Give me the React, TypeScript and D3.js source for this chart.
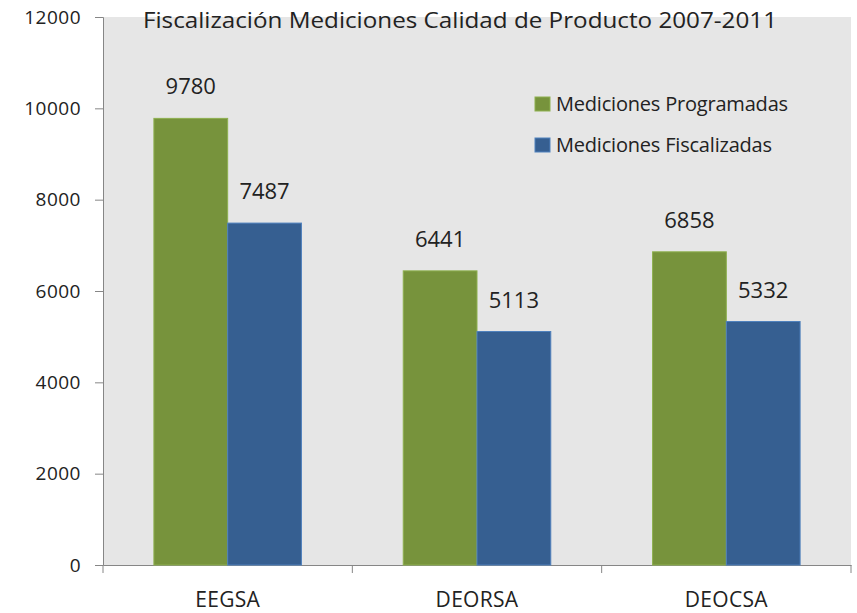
import * as d3 from "d3";
import React, { useEffect, useRef } from "react";

const categories = ["EEGSA", "DEORSA", "DEOCSA"];
const seriesNames = ["Mediciones Programadas", "Mediciones Fiscalizadas"];
const programadas = [9780, 6441, 6858];
const fiscalizadas = [7487, 5113, 5332];
const yTicks = [0, 2000, 4000, 6000, 8000, 10000, 12000];
const title = "Fiscalización Mediciones  Calidad de Producto 2007-2011";

const colors = ["#77933c", "#365f91"];
const borders = ["#8eb04f", "#4f81bd"];

function App() {
  const ref = useRef<SVGSVGElement>(null);

  useEffect(() => {
    drawChart();
  }, []);

  function drawChart() {
    const width = 857;
    const height = 613;
    const margin = { top: 17, right: 6, bottom: 48, left: 103 };
    const font = "'Open Sans', sans-serif";

    const svg = d3.select(ref.current);
    svg.selectAll("*").remove();

    const x = d3
      .scaleBand()
      .domain(categories)
      .range([margin.left, width - margin.right])
      .paddingInner(0)
      .paddingOuter(0);

    const inner = d3
      .scaleBand()
      .domain(seriesNames)
      .range([0, x.bandwidth()])
      .paddingOuter(0.69)
      .paddingInner(0);

    const y = d3
      .scaleLinear()
      .domain([0, 12000])
      .range([height - margin.bottom, margin.top]);

    // plot area
    svg
      .append("rect")
      .attr("x", margin.left)
      .attr("y", margin.top)
      .attr("width", width - margin.right - margin.left)
      .attr("height", y(0) - margin.top)
      .attr("fill", "#e6e6e6");

    // y axis
    const yAxis = svg
      .append("g")
      .attr("transform", `translate(${margin.left},0)`)
      .call(d3.axisLeft(y).tickValues(yTicks).tickSize(8).tickPadding(14).tickFormat(d3.format("d")));
    yAxis.select(".domain").attr("stroke", "#868686");
    yAxis.selectAll(".tick line").attr("stroke", "#868686");
    yAxis
      .selectAll(".tick text")
      .attr("fill", "#222")
      .style("font-family", font)
      .style("font-size", "19px")
      .style("letter-spacing", "0.5px");

    // x axis
    const xAxis = svg
      .append("g")
      .attr("transform", `translate(0,${y(0)})`)
      .call(d3.axisBottom(x).tickSize(0).tickPadding(27));
    xAxis.select(".domain").attr("stroke", "#868686");
    xAxis
      .selectAll(".tick text")
      .attr("fill", "#222")
      .style("font-family", font)
      .style("font-size", "21px")
      .style("letter-spacing", "0.3px");
    // category separators
    const seps = [...categories.map((c) => x(c)!), width - margin.right];
    svg
      .selectAll(".sep")
      .data(seps)
      .enter()
      .append("line")
      .attr("x1", (d) => d)
      .attr("x2", (d) => d)
      .attr("y1", y(0))
      .attr("y2", y(0) + 8)
      .attr("stroke", "#868686");

    // bars
    const groups = svg
      .selectAll(".grp")
      .data(categories)
      .enter()
      .append("g")
      .attr("transform", (d) => `translate(${x(d)},0)`);

    const barData = (c: string, i: number) => [
      { s: 0, v: programadas[i] },
      { s: 1, v: fiscalizadas[i] },
    ];

    groups
      .selectAll("rect")
      .data((c, i) => barData(c, i))
      .enter()
      .append("rect")
      .attr("x", (d) => inner(seriesNames[d.s])!)
      .attr("y", (d) => y(d.v))
      .attr("width", inner.bandwidth())
      .attr("height", (d) => y(0) - y(d.v))
      .attr("fill", (d) => colors[d.s])
      .attr("stroke", (d) => borders[d.s])
      .attr("stroke-width", 1);

    groups
      .selectAll("text")
      .data((c, i) => barData(c, i))
      .enter()
      .append("text")
      .attr("x", (d) => inner(seriesNames[d.s])! + inner.bandwidth() / 2)
      .attr("y", (d) => y(d.v) - 24)
      .attr("text-anchor", "middle")
      .attr("fill", "#222")
      .style("font-family", font)
      .style("font-size", "22px")
      .text((d) => d.v);

    // title
    svg
      .append("text")
      .attr("x", 143)
      .attr("y", 28)
      .attr("textLength", 634)
      .attr("lengthAdjust", "spacingAndGlyphs")
      .attr("fill", "#222")
      .style("font-family", font)
      .style("font-size", "21px")
      .text(title);

    // legend
    const legend = svg
      .selectAll(".leg")
      .data(seriesNames)
      .enter()
      .append("g")
      .attr("transform", (d, i) => `translate(535,${97 + i * 41})`);
    legend
      .append("rect")
      .attr("width", 15)
      .attr("height", 14)
      .attr("fill", (d, i) => colors[i])
      .attr("stroke", (d, i) => borders[i]);
    legend
      .append("text")
      .attr("x", 21)
      .attr("y", 14)
      .attr("fill", "#222")
      .style("font-family", font)
      .style("font-size", "20px")
      .style("letter-spacing", "-0.2px")
      .text((d) => d);
  }

  return (
    <svg
      ref={ref}
      width={857}
      height={613}
      style={{ position: "absolute", left: 0, top: 0, background: "#fff" }}
    />
  );
}

export default App;
